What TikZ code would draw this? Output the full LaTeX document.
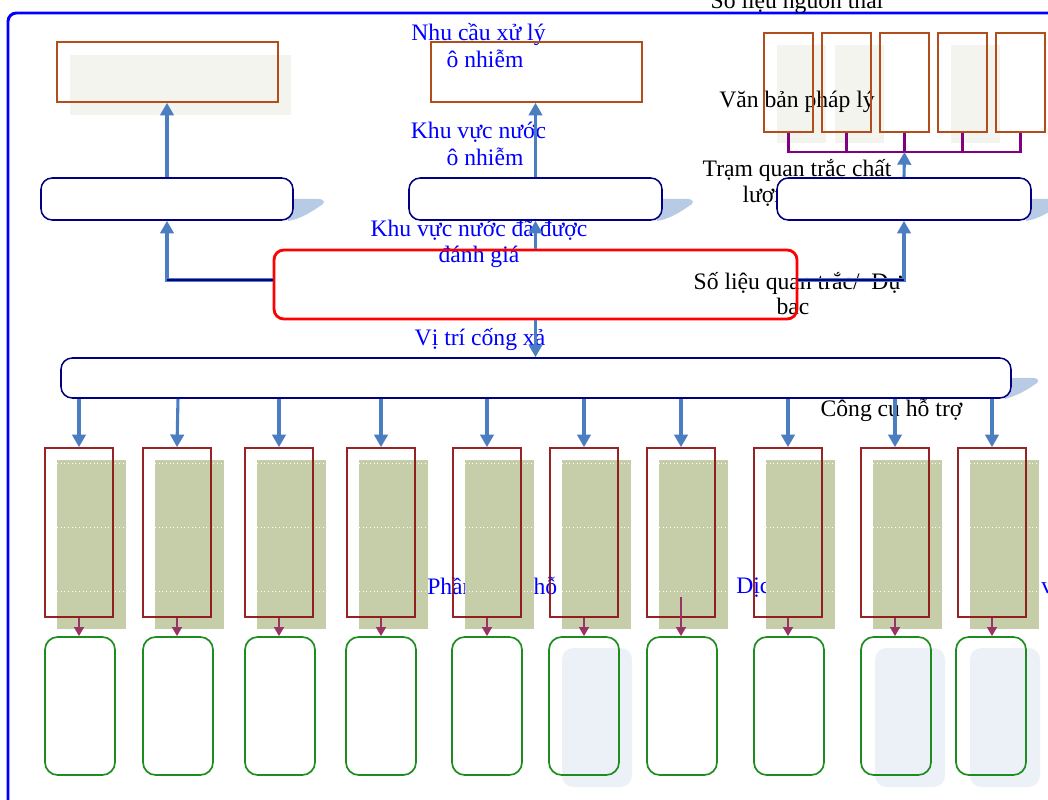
\documentclass[tikz,border=0pt]{standalone}
\usepackage{fontspec}
\setmainfont{Liberation Serif}
\usetikzlibrary{arrows.meta,fit,calc}
\definecolor{framec}{RGB}{0,0,255}
\definecolor{arrc}{RGB}{74,126,193}
\definecolor{navyc}{RGB}{0,0,128}
\definecolor{brownc}{RGB}{178,78,28}
\definecolor{darkredc}{RGB}{140,12,12}
\definecolor{greenc}{RGB}{30,140,30}
\definecolor{olivec}{RGB}{198,206,169}
\definecolor{maroonc}{RGB}{153,51,102}
\definecolor{purplec}{RGB}{128,0,128}
\definecolor{tailc}{RGB}{184,203,228}
\definecolor{texgray}{RGB}{244,244,238}
\definecolor{texblue}{RGB}{236,241,248}
\tikzset{
  lbl/.style={font=\fontsize{16.8}{19}\selectfont, inner sep=0pt, anchor=base},
  bluelbl/.style={lbl, text=framec},
  topbox/.style={draw=brownc, line width=1.1pt, inner sep=0pt},
  midbox/.style={draw=navyc, fill=white, rounded corners=8pt, line width=1.1pt, inner sep=0pt},
  redbig/.style={draw=red, line width=2pt, rounded corners=7pt, inner sep=0pt},
  colbox/.style={draw=darkredc, draw opacity=0.9, line width=1.1pt, inner sep=0pt},
  greenbox/.style={draw=greenc, line width=1.2pt, rounded corners=9pt, inner sep=0pt},
  barrow/.style={draw=arrc, line width=2.2pt, -{Triangle[width=9.5pt,length=9pt]}},
  marrow/.style={draw=maroonc, line width=1.4pt, -{Triangle[width=7pt,length=6.5pt]}},
  bracket/.style={draw=purplec, line width=1.6pt},
}
\begin{document}
\begin{tikzpicture}[x=0.025cm, y=-0.025cm]
\useasboundingbox (0,0) rectangle (1048,800);
\clip (0,0) rectangle (1048,800);
% outer frame
\draw[framec, line width=2.1pt, rounded corners=6pt] (8,13) rectangle (1080,840);

% textured shadows
\fill[texgray] (70,55) rectangle (291,115);
\foreach \x in {764,822,938} {\fill[texgray] (\x+13,45) rectangle (\x+62,143);}
\foreach \x in {562,875,970} {\fill[texblue, rounded corners=8pt] (\x,648) rectangle (\x+70,787);}

% labels
\node[lbl] (t1) at (797,9) {Số liệu nguồn thải};
\node[bluelbl] (t2a) at (478.5,41) {Nhu cầu xử lý};
\node[bluelbl] (t2b) at (485,68) {ô nhiễm};
\node[bluelbl] (t3a) at (478.5,139) {Khu vực nước};
\node[bluelbl] (t3b) at (485,166) {ô nhiễm};
\node[lbl] (t4) at (797,108) {Văn bản pháp lý};
\node[lbl] (t5a) at (797,177) {Trạm quan trắc chất};
\node[lbl] (t5b) at (797,203) {lượng nước};
\node[bluelbl] (t6a) at (479,237) {Khu vực nước đã được};
\node[bluelbl] (t6b) at (479,263) {đánh giá};
\node[lbl] (t7a) at (797.5,290) {Số liệu quan trắc/\ \ Dự};
\node[lbl] (t7b) at (793,315) {bac};
\node[bluelbl] (t8) at (480,346) {Vị trí cống xả};
\node[lbl] (t9) at (891.5,417) {Công cụ hỗ trợ};
\node[bluelbl, anchor=base west] (t10) at (427,594) {Phần mềm hỗ trợ};
\node[bluelbl, anchor=base west] (t11) at (736,593) {Dịch vụ};
\node[bluelbl, anchor=base west] (t12) at (1041,593) {v};

% top boxes
\node[topbox, fit={(57,42)(278,102)}] (tL) {};
\node[topbox, fit={(431,42)(642,102)}] (tM) {};
\foreach \x [count=\i] in {764,822,880,938,996}
  {\node[topbox, fit={(\x,33)(\x+49,132)}] (tr\i) {};}

% bracket
\coordinate (br) at (904.5,152);
\draw[bracket] (tr1.south) -- (tr1.south |- br) -- (tr5.south |- br) -- (tr5.south);
\foreach \i in {2,3,4} {\draw[bracket] (tr\i.south) -- (tr\i.south |- br);}

% shadow tails
\foreach \d in {0,369,738}
  {\fill[tailc] (290+\d,199) -- (318+\d,199) .. controls (325+\d,199) and (326+\d,203) .. (320+\d,206)
     .. controls (310+\d,213) and (300+\d,219) .. (288+\d,221) -- cycle;}
\fill[tailc] (1008,378) -- (1032,378) .. controls (1040,378) and (1040,382) .. (1034,385)
     .. controls (1024,392) and (1015,396) .. (1005,399) -- cycle;

% middle row boxes
\node[midbox, fit={(41,178)(293,220)}] (mL) {};
\node[midbox, fit={(409,178)(662,220)}] (mM) {};
\node[midbox, fit={(777,178)(1031,220)}] (mR) {};

% wide box
\node[midbox, fit={(61,358)(1011,398)}] (wide) {};

% olive blocks
\foreach \x in {45,143,245,347,453,550,647,754,861,958} {
  \fill[olivec] (\x+11.5,460) rectangle (\x+81,629);
  \foreach \yy in {463,527,591}
    \draw[white, line width=0.6pt, dotted] (\x+12,\yy) -- (\x+80,\yy);
}

% column boxes
\foreach \x [count=\i] in {45,143,245,347,453,550,647,754,861,958}
  {\node[colbox, fit={(\x,448)(\x+68,617)}] (rb\i) {};}
\foreach \x [count=\i] in {45,143,245,346,452,549,647,754,861,956}
  {\node[greenbox, fit={(\x,637)(\x+70,775)}] (gb\i) {};}

% central red box
\node[redbig, fit={(274,250)(797,319)}] (red) {};

% connectors
\coordinate (rw) at ([yshift=3.2pt]red.west);
\coordinate (re) at ([yshift=3.2pt]red.east);
\draw[barrow] (mL.north) -- (mL.north |- tL.south);
\draw[barrow] (mM.north) -- (mM.north |- tM.south);
\draw[barrow] (mR.north) -- (br);
\draw[barrow] (rw) -| (mL.south);
\draw[navyc, line width=1.1pt] (rw) -- (rw -| mL.south);
\draw[barrow] (re) -| (mR.south);
\draw[navyc, line width=1.1pt] (re) -- (re -| mR.south);
\draw[barrow] (red.north) -- (red.north |- mM.south);
\draw[barrow] (red.south) -- (red.south |- wide.north);
\foreach \i in {1,3,4,5,6,7,8,9,10}
  {\draw[barrow] (wide.south -| rb\i.north) -- (rb\i.north);}
\draw[barrow] ([xshift=0.7pt]wide.south -| rb2.north) -- (rb2.north);
\foreach \i in {1,2,3,4,5,6,8,9,10}
  {\draw[marrow] (rb\i.south) -- (rb\i.south |- gb\i.north);}
\draw[marrow] ([yshift=15pt]rb7.south) -- (rb7.south |- gb7.north);
\end{tikzpicture}
\end{document}
